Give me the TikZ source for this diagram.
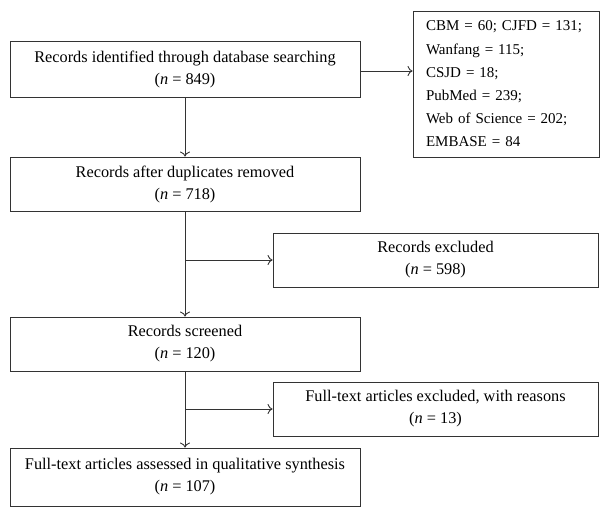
\documentclass[tikz,border=0pt]{standalone}
\usepackage{fontspec}
\setmainfont{Liberation Serif}
\usetikzlibrary{arrows,arrows.meta,calc}
\tikzstyle{box}=[rectangle,draw=black!80,line width=0.9pt,align=center,
  font=\fontsize{16.3}{22}\selectfont,inner sep=2pt]
\tikzstyle{mainbox}=[box,minimum width=350pt,minimum height=54pt]
\tikzstyle{sidebox}=[box,minimum width=325pt,minimum height=54pt]
\tikzstyle{listbox}=[box,align=left,font=\fontsize{15}{23.2}\selectfont,inner xsep=13pt]
\tikzstyle{flow}=[draw=black!80,line width=0.9pt,-{To[length=5pt,width=10pt]}]
\tikzstyle{none}=[]

\begin{document}
\begin{tikzpicture}[x=1pt,y=-1pt]
            \useasboundingbox (0,0) rectangle (610,517);
            \node [style=mainbox,minimum height=56pt] (0) at (185, 69) {Records identified through database searching\\(\textit{n} = 849)};
            \node [style=mainbox] (1) at (185, 184) {Records after duplicates removed\\(\textit{n} = 718)};
            \node [style=sidebox] (2) at (435.5, 260) {Records excluded\\(\textit{n} = 598)};
            \node [style=mainbox] (3) at (185, 344) {Records screened\\(\textit{n} = 120)};
            \node [style=sidebox] (4) at (435.5, 409) {Full-text articles excluded, with reasons\\(\textit{n} = 13)};
            \node [style=mainbox,minimum height=58pt] (5) at (185, 477) {Full-text articles assessed in qualitative synthesis\\(\textit{n} = 107)};
            \node [style=listbox,minimum width=186pt,minimum height=146pt,text width=160pt] (6) at (506, 84) {CBM = 60; CJFD = 131;\\Wanfang = 115;\\CSJD = 18;\\PubMed = 239;\\Web of Science = 202;\\EMBASE = 84};
            \coordinate (7) at ($(0.east)+(0,2)$);
            \draw [style=flow] (7) to (7 -| 6.west);
            \draw [style=flow] (0) to (1);
            \draw [style=flow] (1) to (3);
            \draw [style=flow] (1.south |- 2.west) to (2.west);
            \draw [style=flow] (3) to (5);
            \draw [style=flow] (3.south |- 4.west) to (4.west);
    \end{tikzpicture}
\end{document}
